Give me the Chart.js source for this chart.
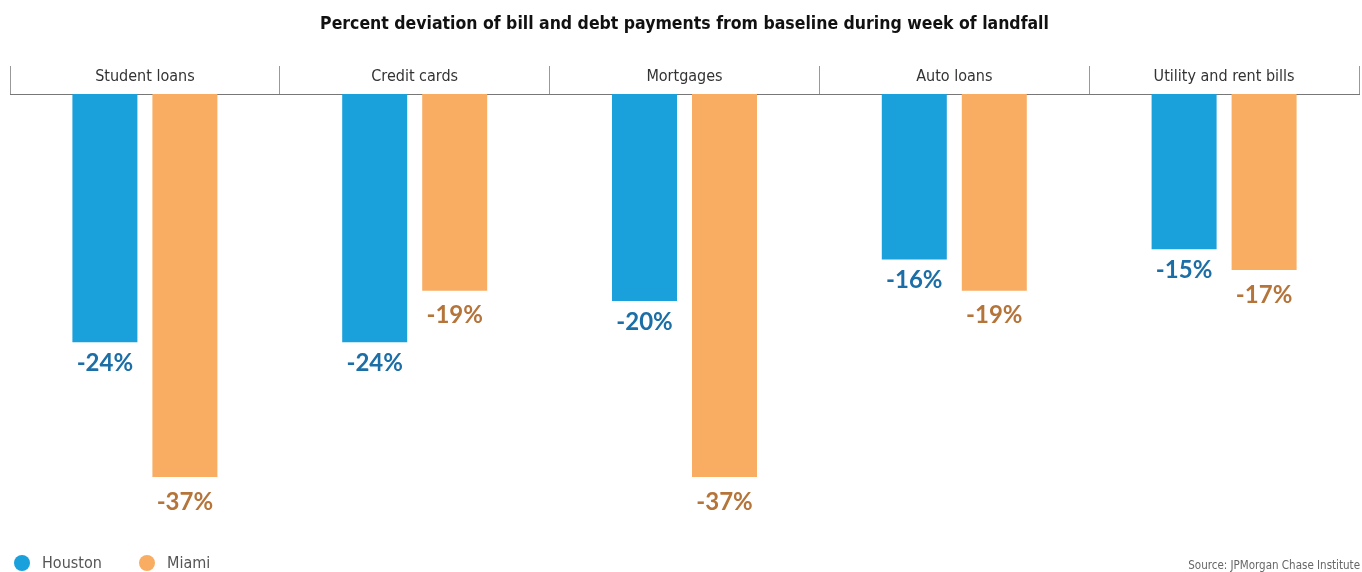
<!DOCTYPE html>
<html>
<head>
<meta charset="utf-8">
<script src="https://cdn.jsdelivr.net/npm/chart.js@4.4.1/dist/chart.umd.min.js"></script>
<style>
  html, body { margin: 0; padding: 0; background: #fff; }
</style>
</head>
<body>
<canvas id="barChart" width="1362" height="572"></canvas>
<script>
var categories = ['Student loans', 'Credit cards', 'Mortgages', 'Auto loans', 'Utility and rent bills'];
var houstonValues = [-24, -24, -20, -16, -15];
var miamiValues = [-37, -19, -37, -19, -17];
var seriesNames = ['Houston', 'Miami'];

var condensed = '"DejaVu Sans Condensed", "Liberation Sans Narrow", sans-serif';
var labelFont = 'Lato, "Open Sans", sans-serif';

// category names sit between the separator ticks above the baseline
var categoryLabels = {
    id: 'categoryLabels',
    afterDraw: function (chart) {
        var ctx = chart.ctx;
        var xScale = chart.scales.x;
        ctx.save();
        ctx.font = '16px ' + condensed;
        ctx.fillStyle = '#333';
        ctx.textAlign = 'center';
        ctx.textBaseline = 'middle';
        chart.data.labels.forEach(function (label, i) {
            ctx.fillText(label, xScale.getPixelForTick(i), xScale.bottom - 17);
        });
        ctx.restore();
    }
};

// value labels under the end of each bar
var valueLabels = {
    id: 'valueLabels',
    afterDatasetsDraw: function (chart) {
        var ctx = chart.ctx;
        ctx.save();
        ctx.font = 'bold 24px ' + labelFont;
        ctx.textAlign = 'center';
        ctx.textBaseline = 'middle';
        chart.data.datasets.forEach(function (ds, i) {
            var meta = chart.getDatasetMeta(i);
            ctx.fillStyle = ds.labelColor;
            meta.data.forEach(function (bar, j) {
                ctx.fillText(ds.data[j] + '%', bar.x, bar.y + ds.labelGap);
            });
        });
        ctx.restore();
    }
};

// legend dots bottom left, source note bottom right
var footer = {
    id: 'footer',
    afterDraw: function (chart) {
        var ctx = chart.ctx;
        var legendX = [22, 147];
        ctx.save();
        ctx.textBaseline = 'middle';
        chart.data.datasets.forEach(function (ds, i) {
            ctx.fillStyle = ds.backgroundColor;
            ctx.beginPath();
            ctx.arc(legendX[i], 563, 8, 0, Math.PI * 2);
            ctx.fill();
            ctx.fillStyle = '#555';
            ctx.font = '16px ' + condensed;
            ctx.textAlign = 'left';
            ctx.fillText(ds.label, legendX[i] + 20, 564);
        });
        ctx.font = '11.5px ' + condensed;
        ctx.fillStyle = '#666';
        ctx.textAlign = 'right';
        ctx.fillText('Source: JPMorgan Chase Institute', chart.width - 2, 566);
        ctx.restore();
    }
};

var barChart = new Chart(document.getElementById('barChart'), {
    type: 'bar',
    data: {
        labels: categories,
        datasets: [{
            label: seriesNames[0],
            data: houstonValues,
            backgroundColor: '#1aa0db',
            labelColor: '#1c6ea6',
            labelGap: 21
        }, {
            label: seriesNames[1],
            data: miamiValues,
            backgroundColor: '#f9ad63',
            labelColor: '#b5743a',
            labelGap: 25
        }]
    },
    options: {
        responsive: false,
        devicePixelRatio: 1,
        animation: false,
        categoryPercentage: 0.593,
        barPercentage: 0.8125,
        layout: { padding: { left: 10, right: 3, top: 0, bottom: 33 } },
        plugins: {
            title: {
                display: true,
                text: 'Percent deviation of bill and debt payments from baseline during week of landfall',
                color: '#111',
                font: { family: condensed, size: 17.5, weight: 'bold' },
                padding: { top: 14, bottom: 31 }
            },
            legend: { display: false },
            tooltip: { enabled: false }
        },
        scales: {
            x: {
                position: 'top',
                grid: {
                    offset: true,
                    drawOnChartArea: false,
                    tickLength: 28,
                    color: '#999'
                },
                border: { display: true, color: '#777', width: 1 },
                ticks: { display: false }
            },
            y: {
                display: false,
                min: -43,
                max: 0
            }
        }
    },
    plugins: [categoryLabels, valueLabels, footer]
});
</script>
</body>
</html>
